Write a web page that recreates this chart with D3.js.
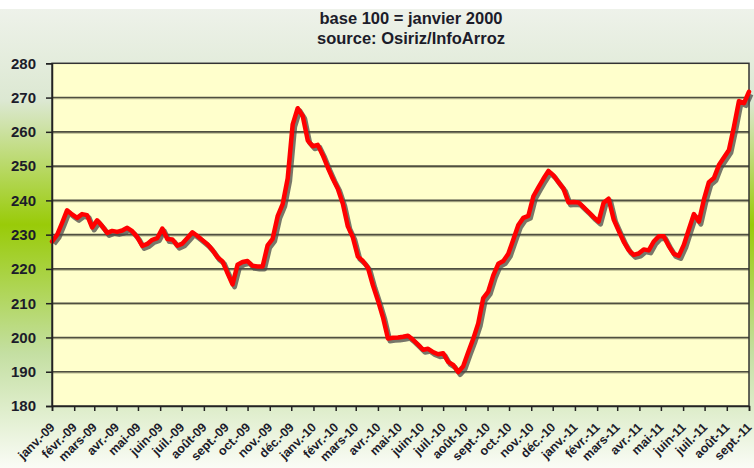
<!DOCTYPE html>
<html>
<head>
<meta charset="utf-8">
<script src="https://cdn.jsdelivr.net/npm/d3@7/dist/d3.min.js"></script>
<style>
  html, body { margin: 0; padding: 0; background: #ffffff; }
  svg { display: block; }
</style>
</head>
<body>
<svg id="chart" width="754" height="468"></svg>
<script>
// ---- data ----
const titleLines = ["base 100 = janvier 2000", "source: Osiriz/InfoArroz"];
const startDate = "2009-01-01";
const weekStepDays = 7;
const weeklyIndex = [
  228.0, 229.9, 233.4, 237.1, 235.9, 234.9, 236.0, 235.7, 232.1, 234.2,
  232.5, 230.5, 231.1, 230.8, 231.2, 232.0, 231.0, 229.3, 226.7, 227.3,
  228.5, 229.0, 231.8, 228.7, 228.6, 226.8, 227.4, 229.0, 230.7, 229.6,
  228.4, 227.2, 225.5, 223.4, 222.2, 218.8, 215.5, 221.2, 222.0, 222.3,
  220.9, 220.7, 220.7, 226.9, 228.8, 235.4, 238.9, 246.4, 262.2, 266.9,
  264.6, 257.5, 255.8, 256.2, 253.2, 249.6, 246.3, 243.4, 239.0, 232.4,
  229.2, 223.6, 222.3, 220.4, 215.2, 210.8, 205.9, 199.7, 199.9, 200.0,
  200.2, 200.5, 199.3, 197.9, 196.4, 196.7, 195.7, 195.1, 195.4, 192.9,
  192.0, 189.9, 191.6, 195.7, 199.6, 204.1, 211.5, 213.4, 218.1, 221.5,
  222.3, 224.4, 228.6, 232.8, 234.9, 235.5, 241.2, 243.8, 246.3, 248.6,
  247.3, 245.3, 243.4, 239.4, 239.5, 239.4, 238.0, 236.6, 235.1, 233.8,
  239.3, 240.5, 234.5, 231.2, 228.0, 225.5, 224.1, 224.5, 225.7, 225.4,
  228.0, 229.5, 229.5, 226.7, 224.4, 223.8, 227.0, 231.5, 236.0, 233.8,
  240.2, 245.3, 246.5, 250.3, 252.5, 254.7, 261.5, 269.0, 268.4, 271.7
];
const monthLabels = [
  "janv.-09","févr.-09","mars-09","avr.-09","mai-09","juin-09","juil.-09","août-09",
  "sept.-09","oct.-09","nov.-09","déc.-09","janv.-10","févr.-10","mars-10","avr.-10",
  "mai-10","juin-10","juil.-10","août-10","sept.-10","oct.-10","nov.-10","déc.-10",
  "janv.-11","févr.-11","mars-11","avr.-11","mai-11","juin-11","juil.-11","août-11","sept.-11"
];
const yDomain = [180, 280];
const yTicks = [180, 190, 200, 210, 220, 230, 240, 250, 260, 270, 280];

// ---- layout ----
const W = 754, H = 468;
const plot = { left: 52, right: 749, top: 63.3, bottom: 406 };
const svg = d3.select("#chart");
const defs = svg.append("defs");

const bg = defs.append("linearGradient").attr("id", "bgGrad")
  .attr("x1", 0).attr("y1", 0).attr("x2", 0).attr("y2", 1);
bg.append("stop").attr("offset", "0%").attr("stop-color", "#eef2ea");
bg.append("stop").attr("offset", "20%").attr("stop-color", "#dce8d2");
bg.append("stop").attr("offset", "47%").attr("stop-color", "#99cb08");
bg.append("stop").attr("offset", "75%").attr("stop-color", "#c4dfa2");
bg.append("stop").attr("offset", "100%").attr("stop-color", "#fafcf6");

svg.append("rect").attr("x", 0).attr("y", 9).attr("width", W).attr("height", H - 9)
  .attr("fill", "url(#bgGrad)");

// ---- scales ----
const parse = d3.timeParse("%Y-%m-%d");
const t0 = parse(startDate);
const series = weeklyIndex.map((v, i) => ({ date: d3.timeDay.offset(t0, i * weekStepDays), value: v }));
const monthTicks = monthLabels.map((_, i) => d3.timeMonth.offset(t0, i));
const x = d3.scaleTime().domain([t0, monthTicks[monthTicks.length - 1]]).range([plot.left, plot.right]);
const y = d3.scaleLinear().domain(yDomain).range([plot.bottom, plot.top]);

// ---- plot area ----
svg.append("rect").attr("x", plot.left).attr("y", plot.top)
  .attr("width", plot.right - plot.left).attr("height", plot.bottom - plot.top)
  .attr("fill", "#ffffcc");

// gridlines
const grid = svg.append("g");
grid.selectAll("line.gs").data(yTicks.slice(1, -1)).join("line")
  .attr("x1", plot.left).attr("x2", plot.right)
  .attr("y1", d => y(d) + 1.2).attr("y2", d => y(d) + 1.2)
  .attr("stroke", "#b9b98f").attr("stroke-width", 1.2);
grid.selectAll("line.g").data(yTicks.slice(1, -1)).join("line")
  .attr("x1", plot.left).attr("x2", plot.right)
  .attr("y1", d => y(d)).attr("y2", d => y(d))
  .attr("stroke", "#4f4f40").attr("stroke-width", 1.6);

// border
svg.append("rect").attr("x", plot.left).attr("y", plot.top)
  .attr("width", plot.right - plot.left).attr("height", plot.bottom - plot.top)
  .attr("fill", "none").attr("stroke", "#333333").attr("stroke-width", 1.5);

// line + shadow
const line = d3.line().x(d => x(d.date)).y(d => y(d.value));
svg.append("path").datum(series).attr("d", line)
  .attr("transform", "translate(2,2.5)")
  .attr("fill", "none").attr("stroke", "#4a4a4a").attr("stroke-opacity", 0.75)
  .attr("stroke-width", 5).attr("stroke-linejoin", "round");
svg.append("path").datum(series).attr("d", line)
  .attr("fill", "none").attr("stroke", "#ff0000")
  .attr("stroke-width", 4.5).attr("stroke-linejoin", "round").attr("stroke-linecap", "round");

// ---- axes ----
const yAxis = d3.axisLeft(y).tickValues(yTicks).tickSize(6).tickPadding(10).tickFormat(d3.format("d"));
const gy = svg.append("g").attr("transform", `translate(${plot.left},0)`).call(yAxis);
gy.select(".domain").attr("stroke", "#222").attr("stroke-width", 1.5);
gy.selectAll(".tick line").attr("stroke", "#222").attr("stroke-width", 1.5);
gy.selectAll(".tick text").attr("font-family", "'Liberation Sans', Arial, sans-serif")
  .attr("font-size", 15).attr("font-weight", "bold").attr("fill", "#1c1c2a");

const xAxis = d3.axisBottom(x).tickValues(monthTicks).tickSize(5)
  .tickFormat((d, i) => monthLabels[i]);
const gx = svg.append("g").attr("transform", `translate(0,${plot.bottom})`).call(xAxis);
gx.select(".domain").attr("stroke", "#222").attr("stroke-width", 1.5);
gx.selectAll(".tick line").attr("stroke", "#222").attr("stroke-width", 1.5);
gx.selectAll(".tick text")
  .attr("font-family", "'Liberation Sans', Arial, sans-serif")
  .attr("font-size", 12.5).attr("font-weight", "bold").attr("fill", "#1c1c2a")
  .attr("text-anchor", "end").attr("x", 0).attr("y", 0).attr("dy", "0")
  .attr("transform", "translate(3,22) rotate(-45)");

// ---- title ----
svg.selectAll("text.title").data(titleLines).join("text")
  .attr("class", "title")
  .attr("x", 411).attr("y", (d, i) => 24 + i * 20)
  .attr("text-anchor", "middle")
  .attr("font-family", "'Liberation Sans', Arial, sans-serif")
  .attr("font-size", 16.5).attr("font-weight", "bold").attr("fill", "#1c1c2a")
  .text(d => d);
</script>
</body>
</html>
